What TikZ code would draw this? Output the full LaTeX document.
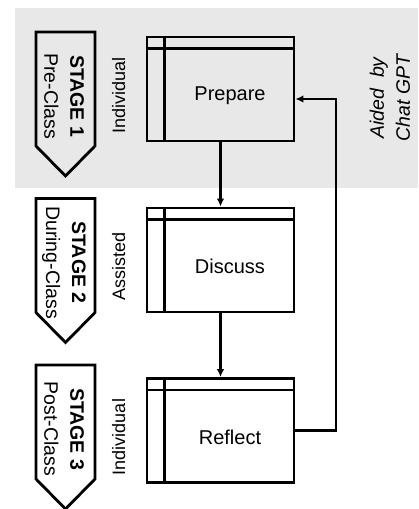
\documentclass[tikz,border=0pt]{standalone}
\usepackage{fontspec}
\setmainfont{Liberation Sans}
\usetikzlibrary{arrows.meta, positioning, calc}
\definecolor{bandgray}{RGB}{232,232,232}

\begin{document}
\begin{tikzpicture}[x=1pt, y=-1pt,
    every node/.style={font=\fontsize{19.5}{26}\selectfont, inner sep=0pt},
    stepbox/.style={draw, line width=2.8pt, minimum width=147pt, minimum height=104pt},
    flow/.style={line width=2.5pt, -{Latex[length=8pt,width=7.5pt]}}]
    \useasboundingbox (0,0) rectangle (418,509);

    % Pre-class band
    \fill[bandgray] (15,8) rectangle (418,188);

    % Stage markers
    \foreach \y/\num/\when/\nm in {32/1/Pre-Class/s1, 198.5/2/During-Class/s2, 365/3/Post-Class/s3} {
        \draw[line width=2.8pt] (36,\y) -- (95,\y) -- (95,\y+114) -- (65.5,\y+144) -- (36,\y+114) -- cycle;
        \node[rotate=-90, align=center] (\nm) at (64,\y+64) {\textbf{STAGE \num}\\\when};
    }

    % Activity boxes
    \node[stepbox] (prep) at (220.5,89) {};
    \node[stepbox] (disc) at (220.5,260) {};
    \node[stepbox] (refl) at (220.5,430.5) {};

    \foreach \b/\txt/\mode in {prep/Prepare/Individual, disc/Discuss/Assisted, refl/Reflect/Individual} {
        \draw[line width=2.3pt] ($(\b.north west)+(19,0)$) -- ($(\b.south west)+(19,0)$);
        \draw[line width=2.3pt] ($(\b.north west)+(0,13)$) -- ($(\b.north east)+(0,13)$);
        \node[font=\fontsize{20}{24}\selectfont] (\b-txt) at ($(\b.center)+(9.5,6.5)$) {\txt};
        \node[rotate=90, font=\fontsize{18}{22}\selectfont] (\b-mode) at ($(\b.west)+(-27,6.5)$) {\mode};
    }

    % Flow
    \draw[flow] (prep) -- (disc);
    \draw[flow] (disc) -- (refl);
    \draw[flow] (refl.east) -- ++(40.5,0) |- ($(prep.east)+(0,10)$);

    % Note
    \node[rotate=90, align=center, font=\fontsize{19.5}{26}\selectfont\itshape] (aid) at (390,98) {Aided\ \ by\\Chat GPT};
\end{tikzpicture}
\end{document}
